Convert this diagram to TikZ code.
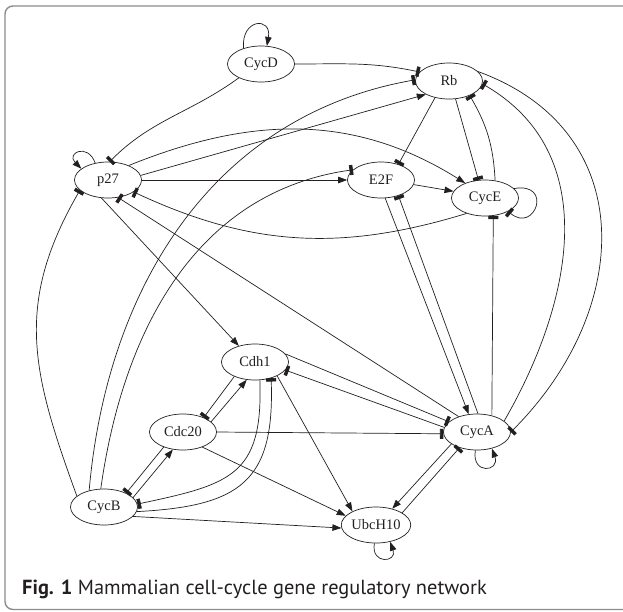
\documentclass[tikz,border=0pt]{standalone}
\usepackage{fontspec}
\setmainfont{Liberation Serif}
\newfontfamily\capfont{PT Sans}
\usetikzlibrary{arrows.meta,shapes.geometric}
\definecolor{edgeC}{RGB}{35,31,32}
\definecolor{frameC}{RGB}{140,140,140}

\begin{document}
\begin{tikzpicture}[x=1pt, y=1pt,
  gene/.style={ellipse, draw=edgeC, line width=0.7pt, minimum width=67pt, minimum height=36pt,
    inner sep=0pt, text=edgeC, font=\fontsize{14.5}{16}\selectfont},
  act/.style={draw=edgeC, line width=0.7pt, -{Triangle[length=9pt,width=6.5pt]}},
  inh/.style={draw=edgeC, line width=0.7pt, -{Rectangle[length=3.4pt,width=10pt]}}
]
\useasboundingbox (0,0) rectangle (623,-611);
\clip (0,0) rectangle (623,-611);
\draw[frameC, line width=1.4pt, rounded corners=8pt] (5,-6) rectangle (660,-609.5);

% genes, pixel positions of the figure
\foreach \n/\x/\y in {
  CycD/261/64, Rb/449/81, p27/108/180, E2F/381/180, CycE/485/198,
  Cdh1/255/362, Cdc20/183/432, CycA/477/432, CycB/104/507, UbcH10/376/525} {
  \node[gene] (\n) at (\x,-\y) {\n};
}

% straight activations
\foreach \a/\b in {p27.east/E2F.west, p27.8/Rb.210, E2F.-8/CycE.168, E2F.-77/CycA.115,
  CycA.205/UbcH10.45, p27.250/Cdh1.135, Cdc20.20/Cdh1.245, CycB.18/Cdc20.240,
  Cdh1.-32/UbcH10.150, Cdc20.-38/UbcH10.163, CycB.-18/UbcH10.185}
  \draw[act] (\a) -- (\b);

% straight inhibitions
\foreach \a/\b in {Rb.230/E2F.42, Rb.290/CycE.110, CycA.48/CycE.-65, CycA.87/E2F.-42,
  UbcH10.25/CycA.222, CycA.140/p27.300, Cdh1.15/CycA.160, CycA.172/Cdh1.-15,
  Cdc20.east/CycA.183, Cdh1.215/Cdc20.35, Cdc20.218/CycB.32}
  \draw[inh] (\a) -- (\b);

% curved edges
\draw[act] (p27.35) to[out=22,in=148] (CycE.143);
\draw[inh] (CycD.east) to[out=0,in=168] (Rb.163);
\draw[inh] (CycD.212) to[out=216,in=45] (p27.85);
\draw[inh] (CycB.132) to[out=85,in=190] (Rb.178);
\draw[inh] (CycB.100) to[out=82,in=188] (E2F.160);
\draw[inh] (CycE.220) to[out=197,in=335] (p27.335);
\draw[inh] (CycB.158) to[out=110,in=240,looseness=1.1] (p27.200);
\draw[inh] (CycE.60) to[out=93,in=300] (Rb.325);
\draw[inh] (Rb.18) to[out=-20,in=45,looseness=1.22] (CycA.east);
\draw[inh] (CycA.22) to[out=60,in=-30,looseness=1.05] (Rb.-5);
\draw[inh] (Cdh1.-75) to[out=-88,in=12,looseness=1.4] (CycB.5);
\draw[inh] (CycB.-8) to[out=3,in=-88,looseness=1.4] (Cdh1.-45);

% self loops
\draw[act] (CycD.138) .. controls +(95:30) and +(80:30) .. (CycD.72);
\draw[act] (p27.127) .. controls +(110:22) and +(135:22) .. (p27.157);
\draw[inh] (CycE.18) .. controls +(10:40) and +(-40:35) .. (CycE.-30);
\draw[act] (CycA.265) .. controls +(-100:25) and +(-70:25) .. (CycA.-48);
\draw[act] (UbcH10.265) .. controls +(-100:22) and +(-70:22) .. (UbcH10.-50);

\node[anchor=base west, inner sep=0pt, text=edgeC, font=\capfont\fontsize{20.4}{22}\selectfont]
  (caption) at (22,-594) {\textbf{Fig. 1} Mammalian cell-cycle gene regulatory network};
\end{tikzpicture}
\end{document}
